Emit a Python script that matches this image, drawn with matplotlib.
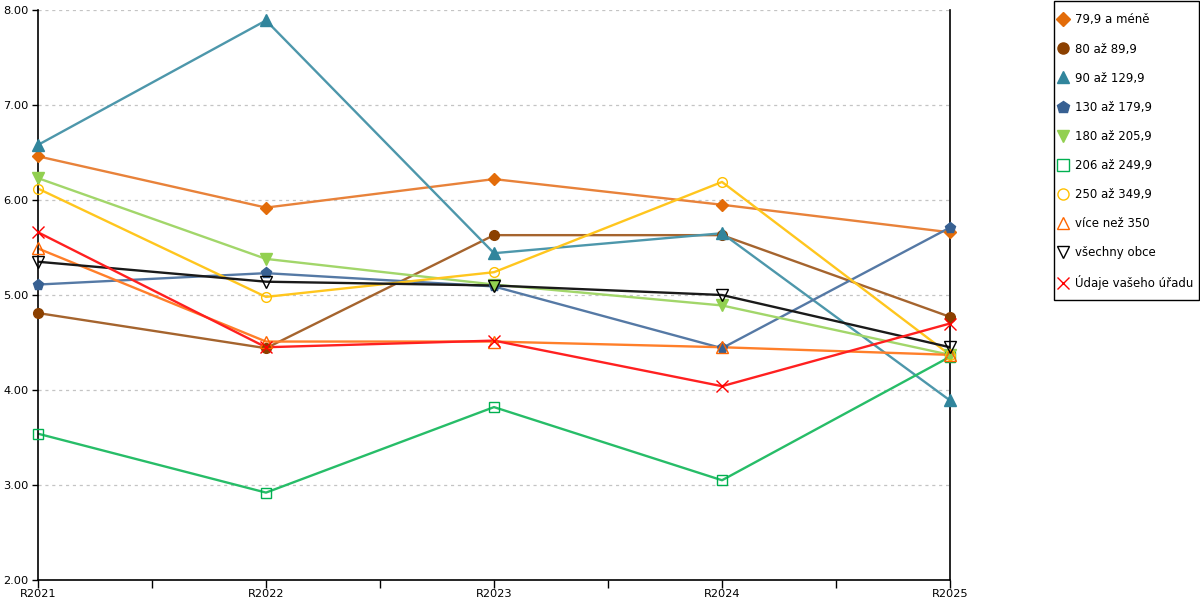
import matplotlib.pyplot as plt
from matplotlib.lines import Line2D
from matplotlib.patches import Rectangle
import numpy as np

years = ['R2021', 'R2022', 'R2023', 'R2024', 'R2025']

names = ['79,9 a méně', '80 až 89,9', '90 až 129,9', '130 až 179,9', '180 až 205,9',
         '206 až 249,9', '250 až 349,9', 'více než 350', 'všechny obce', 'Údaje vašeho úřadu']

v_79 = [6.46, 5.92, 6.22, 5.95, 5.66]
v_80 = [4.81, 4.44, 5.63, 5.63, 4.77]
v_90 = [6.58, 7.89, 5.44, 5.65, 3.89]
v_130 = [5.11, 5.23, 5.09, 4.44, 5.71]
v_180 = [6.23, 5.38, 5.11, 4.89, 4.37]
v_206 = [3.54, 2.92, 3.82, 3.05, 4.35]
v_250 = [6.12, 4.98, 5.24, 6.19, 4.37]
v_350 = [5.49, 4.51, 4.51, 4.45, 4.37]
v_vse = [5.35, 5.14, 5.10, 5.00, 4.45]
v_urad = [5.66, 4.45, 4.52, 4.04, 4.70]

values = [v_79, v_80, v_90, v_130, v_180, v_206, v_250, v_350, v_vse, v_urad]

# marker colour, line colour, marker, filled
styles = [
    ('#E36C09', '#E8823A', 'D', True),
    ('#8B4000', '#A5642E', 'o', True),
    ('#31859C', '#4D97AB', '^', True),
    ('#376092', '#5579A5', 'p', True),
    ('#92D050', '#A2D66A', 'v', True),
    ('#00B050', '#27BD68', 's', False),
    ('#FFC000', '#FFC61E', 'o', False),
    ('#FF6600', '#FF7F2A', '^', False),
    ('#000000', '#1A1A1A', 'v', False),
    ('#FF0000', '#FF2020', 'x', False),
]
msizes = {'D': 6.5, 'o': 7, '^': 8, 'p': 8, 'v': 8, 's': 7.5, 'x': 8}

plt.rcParams['font.family'] = ['DejaVu Sans']
fig = plt.figure(figsize=(12, 6), dpi=100)
ax = fig.add_axes([38 / 1200, 20 / 600, 912 / 1200, 570 / 600])

x = np.arange(len(years))
handles = []
for vals, name, (mc, lc, m, filled) in zip(values, names, styles):
    ax.plot(x, vals, color=lc, lw=1.7, zorder=2)
    kw = dict(marker=m, markersize=msizes[m], linestyle='none',
              markeredgecolor=mc, markeredgewidth=1.0)
    if filled or m == 'x':
        kw['markerfacecolor'] = mc
    else:
        kw['markerfacecolor'] = 'none'
    ax.plot(x, vals, zorder=3, clip_on=False, **kw)
    hk = dict(kw)
    hk['markersize'] = msizes[m] + 1
    handles.append(Line2D([], [], label=name, **hk))

ax.set_xlim(0, 4)
ax.set_ylim(2, 8)
ax.set_yticks(np.arange(2, 8.01, 1))
ax.set_yticklabels(['%.2f' % t for t in np.arange(2, 8.01, 1)], fontsize=8.2)
ax.set_xticks(np.arange(0, 4.01, 0.5))
ax.set_xticklabels([years[int(t)] if t == int(t) else '' for t in np.arange(0, 4.01, 0.5)],
                   fontsize=8.2)
ax.tick_params(axis='x', direction='out', length=6, width=1, pad=0.5)
ax.tick_params(axis='y', direction='out', length=4, width=1, pad=3)
ax.grid(axis='y', color='#C4C4C4', linestyle=(0, (2.5, 3)), lw=0.9)
ax.set_axisbelow(True)
ax.spines['top'].set_visible(False)
for s in ['left', 'right', 'bottom']:
    ax.spines[s].set_linewidth(1.2)
    ax.spines[s].set_color('black')

# legend box drawn in figure pixels
fig.patches.append(Rectangle((1054 / 1200, 1 - 300 / 600), 145 / 1200, 299 / 600,
                             transform=fig.transFigure, fill=False, edgecolor='black',
                             lw=1.0, zorder=5))
fig.legend(handles=handles, loc='upper left', bbox_to_anchor=(1058 / 1200, 1 - 13.5 / 600),
           frameon=False, fontsize=8.5, labelspacing=1.36,
           handlelength=0.8, handletextpad=0.62, borderpad=0, borderaxespad=0)

fig.savefig('out.png', dpi=100)
